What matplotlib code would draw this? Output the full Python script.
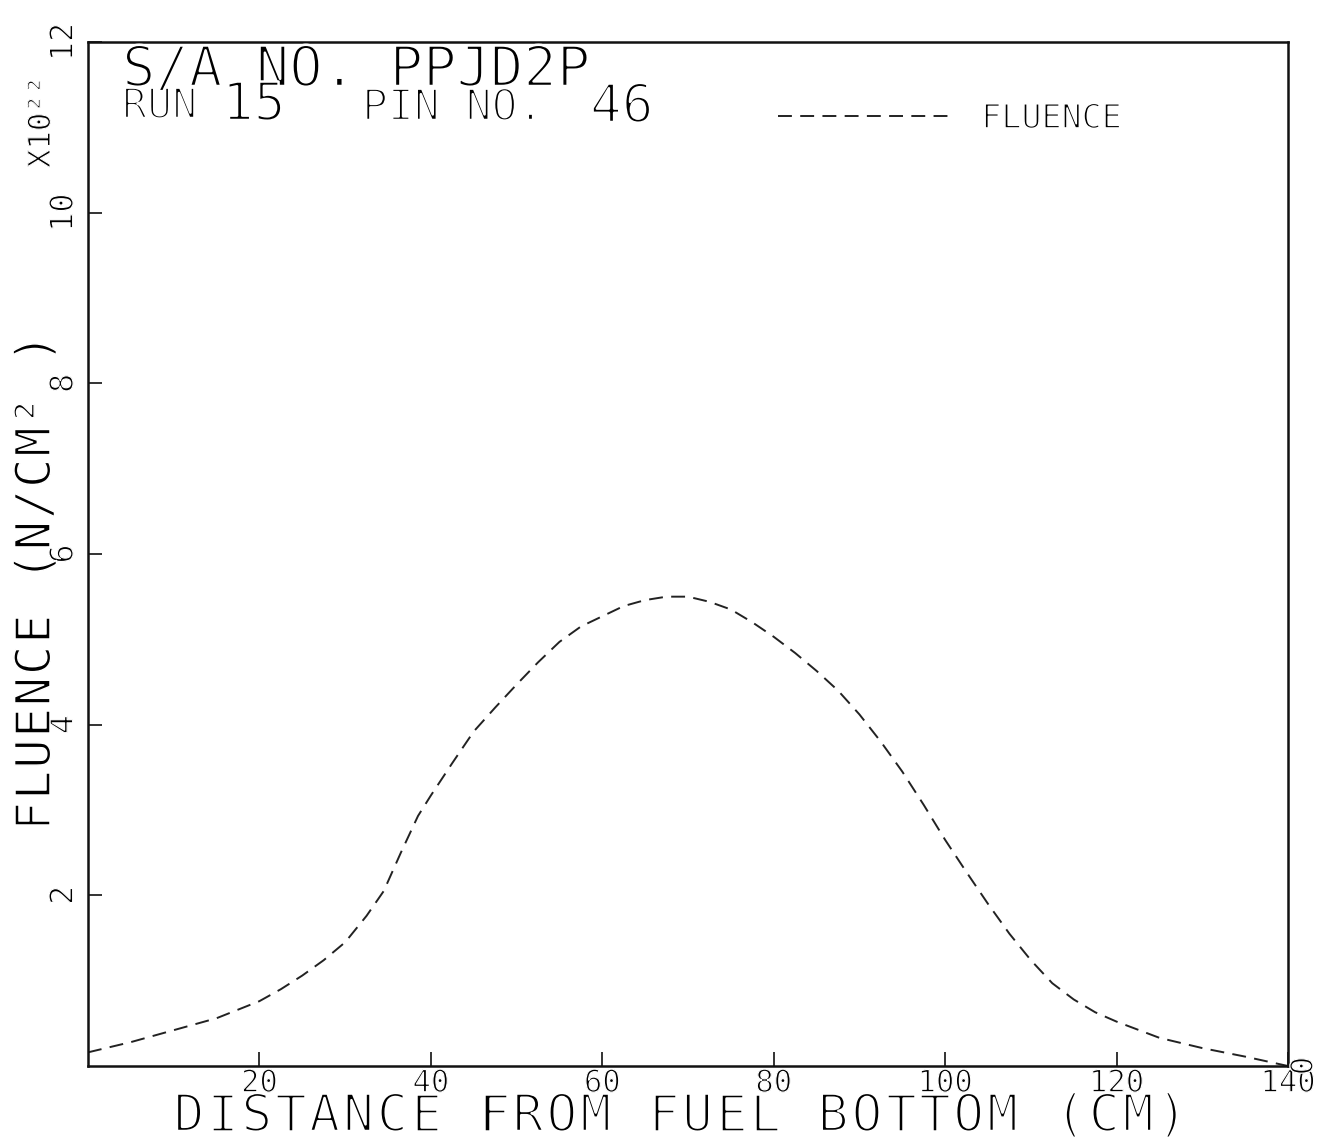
import matplotlib
matplotlib.use('Agg')
import matplotlib.pyplot as plt
import matplotlib.patheffects as pe

# axial fluence profile along the pin, x in cm from fuel bottom, fluence in units of 1e22 n/cm^2
distance = [0, 5, 10, 15, 20, 22.5, 25, 27.5, 30, 32.5, 34.5, 36.5, 38.5, 40,
            42.5, 45, 47.5, 50, 52.5, 55, 57.5, 60, 62.5, 65, 67.5, 70, 72.5,
            75, 77.5, 80, 82.5, 85, 87.5, 90, 92.5, 95, 97.5, 100, 102.5, 105,
            107.5, 110, 112.5, 115, 117.5, 120, 125, 130, 135, 140]
fluence = [0.16, 0.28, 0.42, 0.56, 0.76, 0.90, 1.06, 1.24, 1.45, 1.76, 2.05,
           2.5, 2.93, 3.17, 3.55, 3.92, 4.2, 4.47, 4.73, 4.97, 5.15, 5.27, 5.39,
           5.46, 5.5, 5.5, 5.44, 5.35, 5.2, 5.03, 4.84, 4.63, 4.4, 4.12, 3.8,
           3.45, 3.06, 2.65, 2.27, 1.9, 1.55, 1.24, 0.97, 0.78, 0.63, 0.52,
           0.33, 0.21, 0.11, 0.0]

xticks = [20, 40, 60, 80, 100, 120, 140]
yticks = [2, 4, 6, 8, 10, 12]

plt.rcParams['font.family'] = 'DejaVu Sans Mono'
plt.rcParams['lines.scale_dashes'] = False

W, H = 1326, 1141
fig = plt.figure(figsize=(W / 100, H / 100), dpi=100)


def fx(px):
    return px / W


def fy(py):
    return 1 - py / H


def thin(width):
    # eat into the glyph outline so the lettering looks like pen strokes
    return [pe.Normal(), pe.Stroke(linewidth=width, foreground='white')]


def spaced(x0, y0, s, pitch, size, w, vertical=False):
    # plotter style lettering: one glyph per cell, fixed pitch in pixels
    for i, ch in enumerate(s):
        if ch == ' ':
            continue
        if vertical:
            t = fig.text(fx(x0), fy(y0 - (i + 0.5) * pitch), ch, fontsize=size,
                         rotation=90, rotation_mode='anchor',
                         ha='center', va='baseline')
        else:
            t = fig.text(fx(x0 + (i + 0.5) * pitch), fy(y0), ch, fontsize=size,
                         ha='center', va='baseline')
        t.set_path_effects(thin(w))


ax = fig.add_axes([fx(88), fy(1066), fx(1288) - fx(88), fy(42) - fy(1066)])

line, = ax.plot(distance, fluence, color='#222222', lw=1.4, dashes=(10, 6),
                label='FLUENCE')

ax.set_xlim(0, 140)
ax.set_ylim(0, 12)
ax.set_xticks(xticks)
ax.set_yticks(yticks)
ax.tick_params(direction='in', length=10, width=1.2, color='#111111')
ax.tick_params(axis='x', labelsize=22, pad=2)
ax.tick_params(axis='y', labelsize=23, pad=6, labelrotation=90)
for lbl in ax.get_yticklabels():
    lbl.set_va('center')
for lbl in ax.get_xticklabels() + ax.get_yticklabels():
    lbl.set_path_effects(thin(0.9))
for sp in ax.spines.values():
    sp.set_linewidth(1.8)
    sp.set_color('#111111')

# header text block
hdr = [
    fig.text(fx(122), fy(86), 'S/A NO. PPJD2P', fontsize=40, va='baseline'),
    fig.text(fx(122), fy(118), 'RUN', fontsize=30, va='baseline'),
    fig.text(fx(222), fy(120), '15', fontsize=38, va='baseline'),
    fig.text(fx(362), fy(120), 'PIN NO.', fontsize=31, va='baseline'),
    fig.text(fx(590), fy(122), '46', fontsize=38, va='baseline'),
]
for t in hdr:
    t.set_path_effects(thin(1.8))

leg = ax.legend(handles=[line], loc='upper left', frameon=False, fontsize=24,
                bbox_to_anchor=(fx(778), fy(102)), bbox_transform=fig.transFigure,
                borderpad=0, borderaxespad=0, handlelength=5.1, handletextpad=1.0)
for t in leg.get_texts():
    t.set_path_effects(thin(1.2))

# axis titles
spaced(172, 1131, 'DISTANCE FROM FUEL BOTTOM (CM)', 33.9, 37, 1.8)
spaced(50, 832, 'FLUENCE (N/CM² )', 31.2, 35, 1.1, vertical=True)
sc = fig.text(fx(50), fy(122), 'X10²²', fontsize=22, rotation=90,
              rotation_mode='anchor', ha='center', va='baseline')
z = fig.text(fx(1304), fy(1066), '0', fontsize=22, rotation=90,
             ha='center', va='center')
for t, w in [(sc, 0.8), (z, 0.9)]:
    t.set_path_effects(thin(w))

fig.savefig('out.png', dpi=100)
